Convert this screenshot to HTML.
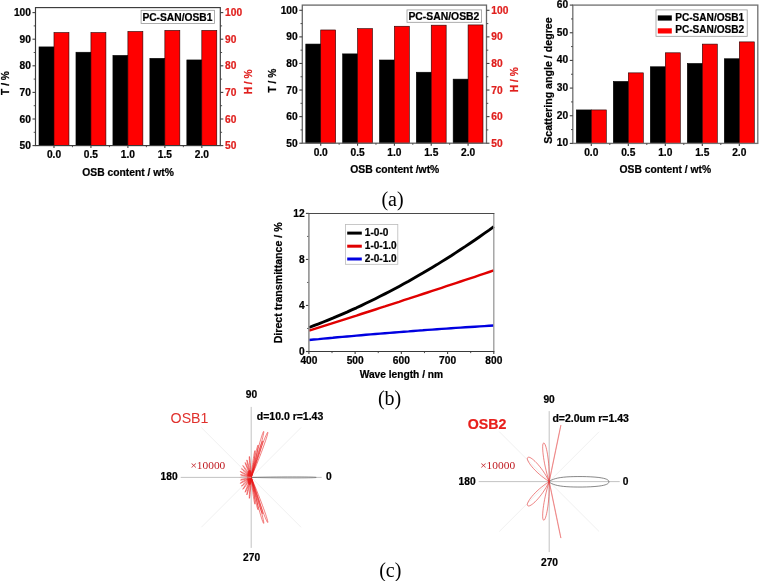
<!DOCTYPE html><html><head><meta charset="utf-8"><style>html,body{margin:0;padding:0;background:#fff;}svg{display:block;will-change:transform;}</style></head><body>
<svg width="759" height="581" viewBox="0 0 759 581">
<rect width="759" height="581" fill="#fff"/>
<rect x="39.01" y="46.91" width="14.97" height="98.69" fill="#000" stroke="#000" stroke-width="0.6"/>
<rect x="53.98" y="32.55" width="14.97" height="113.05" fill="#ff0000" stroke="#200" stroke-width="0.6"/>
<rect x="75.97" y="52.23" width="14.97" height="93.37" fill="#000" stroke="#000" stroke-width="0.6"/>
<rect x="90.94" y="32.55" width="14.97" height="113.05" fill="#ff0000" stroke="#200" stroke-width="0.6"/>
<rect x="112.93" y="55.43" width="14.97" height="90.17" fill="#000" stroke="#000" stroke-width="0.6"/>
<rect x="127.90" y="31.49" width="14.97" height="114.11" fill="#ff0000" stroke="#200" stroke-width="0.6"/>
<rect x="149.89" y="58.35" width="14.97" height="87.25" fill="#000" stroke="#000" stroke-width="0.6"/>
<rect x="164.86" y="30.42" width="14.97" height="115.18" fill="#ff0000" stroke="#200" stroke-width="0.6"/>
<rect x="186.85" y="59.95" width="14.97" height="85.65" fill="#000" stroke="#000" stroke-width="0.6"/>
<rect x="201.82" y="30.42" width="14.97" height="115.18" fill="#ff0000" stroke="#200" stroke-width="0.6"/>
<rect x="35.5" y="7.6" width="184.8" height="138.0" fill="none" stroke="#3a3a3a" stroke-width="1.15"/>
<line x1="32.5" y1="145.6" x2="35.5" y2="145.6" stroke="#404040" stroke-width="1.1"/>
<text x="30.9" y="149.2" font-size="10.2" font-weight="bold" font-family="'Liberation Sans', sans-serif" fill="#000" stroke="#000" stroke-width="0.22" text-anchor="end">50</text>
<line x1="220.3" y1="145.6" x2="223.3" y2="145.6" stroke="#404040" stroke-width="1.1"/>
<text x="225.10000000000002" y="149.2" font-size="10.2" font-weight="bold" font-family="'Liberation Sans', sans-serif" fill="#e0201e" stroke="#e0201e" stroke-width="0.22" text-anchor="start">50</text>
<line x1="32.5" y1="119.0" x2="35.5" y2="119.0" stroke="#404040" stroke-width="1.1"/>
<text x="30.9" y="122.6" font-size="10.2" font-weight="bold" font-family="'Liberation Sans', sans-serif" fill="#000" stroke="#000" stroke-width="0.22" text-anchor="end">60</text>
<line x1="220.3" y1="119.0" x2="223.3" y2="119.0" stroke="#404040" stroke-width="1.1"/>
<text x="225.10000000000002" y="122.6" font-size="10.2" font-weight="bold" font-family="'Liberation Sans', sans-serif" fill="#e0201e" stroke="#e0201e" stroke-width="0.22" text-anchor="start">60</text>
<line x1="32.5" y1="92.39999999999999" x2="35.5" y2="92.39999999999999" stroke="#404040" stroke-width="1.1"/>
<text x="30.9" y="95.99999999999999" font-size="10.2" font-weight="bold" font-family="'Liberation Sans', sans-serif" fill="#000" stroke="#000" stroke-width="0.22" text-anchor="end">70</text>
<line x1="220.3" y1="92.39999999999999" x2="223.3" y2="92.39999999999999" stroke="#404040" stroke-width="1.1"/>
<text x="225.10000000000002" y="95.99999999999999" font-size="10.2" font-weight="bold" font-family="'Liberation Sans', sans-serif" fill="#e0201e" stroke="#e0201e" stroke-width="0.22" text-anchor="start">70</text>
<line x1="32.5" y1="65.79999999999998" x2="35.5" y2="65.79999999999998" stroke="#404040" stroke-width="1.1"/>
<text x="30.9" y="69.39999999999998" font-size="10.2" font-weight="bold" font-family="'Liberation Sans', sans-serif" fill="#000" stroke="#000" stroke-width="0.22" text-anchor="end">80</text>
<line x1="220.3" y1="65.79999999999998" x2="223.3" y2="65.79999999999998" stroke="#404040" stroke-width="1.1"/>
<text x="225.10000000000002" y="69.39999999999998" font-size="10.2" font-weight="bold" font-family="'Liberation Sans', sans-serif" fill="#e0201e" stroke="#e0201e" stroke-width="0.22" text-anchor="start">80</text>
<line x1="32.5" y1="39.19999999999999" x2="35.5" y2="39.19999999999999" stroke="#404040" stroke-width="1.1"/>
<text x="30.9" y="42.79999999999999" font-size="10.2" font-weight="bold" font-family="'Liberation Sans', sans-serif" fill="#000" stroke="#000" stroke-width="0.22" text-anchor="end">90</text>
<line x1="220.3" y1="39.19999999999999" x2="223.3" y2="39.19999999999999" stroke="#404040" stroke-width="1.1"/>
<text x="225.10000000000002" y="42.79999999999999" font-size="10.2" font-weight="bold" font-family="'Liberation Sans', sans-serif" fill="#e0201e" stroke="#e0201e" stroke-width="0.22" text-anchor="start">90</text>
<line x1="32.5" y1="12.599999999999994" x2="35.5" y2="12.599999999999994" stroke="#404040" stroke-width="1.1"/>
<text x="30.9" y="16.199999999999996" font-size="10.2" font-weight="bold" font-family="'Liberation Sans', sans-serif" fill="#000" stroke="#000" stroke-width="0.22" text-anchor="end">100</text>
<line x1="220.3" y1="12.599999999999994" x2="223.3" y2="12.599999999999994" stroke="#404040" stroke-width="1.1"/>
<text x="225.10000000000002" y="16.199999999999996" font-size="10.2" font-weight="bold" font-family="'Liberation Sans', sans-serif" fill="#e0201e" stroke="#e0201e" stroke-width="0.22" text-anchor="start">100</text>
<line x1="33.7" y1="132.29999999999998" x2="35.5" y2="132.29999999999998" stroke="#404040" stroke-width="0.9"/>
<line x1="220.3" y1="132.29999999999998" x2="222.10000000000002" y2="132.29999999999998" stroke="#404040" stroke-width="0.9"/>
<line x1="33.7" y1="105.69999999999999" x2="35.5" y2="105.69999999999999" stroke="#404040" stroke-width="0.9"/>
<line x1="220.3" y1="105.69999999999999" x2="222.10000000000002" y2="105.69999999999999" stroke="#404040" stroke-width="0.9"/>
<line x1="33.7" y1="79.1" x2="35.5" y2="79.1" stroke="#404040" stroke-width="0.9"/>
<line x1="220.3" y1="79.1" x2="222.10000000000002" y2="79.1" stroke="#404040" stroke-width="0.9"/>
<line x1="33.7" y1="52.499999999999986" x2="35.5" y2="52.499999999999986" stroke="#404040" stroke-width="0.9"/>
<line x1="220.3" y1="52.499999999999986" x2="222.10000000000002" y2="52.499999999999986" stroke="#404040" stroke-width="0.9"/>
<line x1="33.7" y1="25.89999999999999" x2="35.5" y2="25.89999999999999" stroke="#404040" stroke-width="0.9"/>
<line x1="220.3" y1="25.89999999999999" x2="222.10000000000002" y2="25.89999999999999" stroke="#404040" stroke-width="0.9"/>
<line x1="53.980000000000004" y1="145.6" x2="53.980000000000004" y2="148.1" stroke="#404040" stroke-width="1.1"/>
<text x="53.980000000000004" y="158.1" font-size="10.2" font-weight="bold" font-family="'Liberation Sans', sans-serif" fill="#000" stroke="#000" stroke-width="0.22" text-anchor="middle">0.0</text>
<line x1="72.46000000000001" y1="145.6" x2="72.46000000000001" y2="147.2" stroke="#404040" stroke-width="0.9"/>
<line x1="90.94" y1="145.6" x2="90.94" y2="148.1" stroke="#404040" stroke-width="1.1"/>
<text x="90.94" y="158.1" font-size="10.2" font-weight="bold" font-family="'Liberation Sans', sans-serif" fill="#000" stroke="#000" stroke-width="0.22" text-anchor="middle">0.5</text>
<line x1="109.42" y1="145.6" x2="109.42" y2="147.2" stroke="#404040" stroke-width="0.9"/>
<line x1="127.9" y1="145.6" x2="127.9" y2="148.1" stroke="#404040" stroke-width="1.1"/>
<text x="127.9" y="158.1" font-size="10.2" font-weight="bold" font-family="'Liberation Sans', sans-serif" fill="#000" stroke="#000" stroke-width="0.22" text-anchor="middle">1.0</text>
<line x1="146.38" y1="145.6" x2="146.38" y2="147.2" stroke="#404040" stroke-width="0.9"/>
<line x1="164.86" y1="145.6" x2="164.86" y2="148.1" stroke="#404040" stroke-width="1.1"/>
<text x="164.86" y="158.1" font-size="10.2" font-weight="bold" font-family="'Liberation Sans', sans-serif" fill="#000" stroke="#000" stroke-width="0.22" text-anchor="middle">1.5</text>
<line x1="183.34" y1="145.6" x2="183.34" y2="147.2" stroke="#404040" stroke-width="0.9"/>
<line x1="201.82" y1="145.6" x2="201.82" y2="148.1" stroke="#404040" stroke-width="1.1"/>
<text x="201.82" y="158.1" font-size="10.2" font-weight="bold" font-family="'Liberation Sans', sans-serif" fill="#000" stroke="#000" stroke-width="0.22" text-anchor="middle">2.0</text>
<text x="8.6" y="83.0" font-size="10.2" font-weight="bold" font-family="'Liberation Sans', sans-serif" fill="#000" stroke="#000" stroke-width="0.22" text-anchor="middle" transform="rotate(-90 8.6 83.0)">T / %</text>
<text x="252.2" y="81.9" font-size="10.2" font-weight="bold" font-family="'Liberation Sans', sans-serif" fill="#e0201e" stroke="#e0201e" stroke-width="0.22" text-anchor="middle" transform="rotate(-90 252.2 81.9)">H / %</text>
<text x="128.1" y="175.6" font-size="10.2" font-weight="bold" font-family="'Liberation Sans', sans-serif" fill="#000" stroke="#000" stroke-width="0.22" text-anchor="middle" textLength="91.5" lengthAdjust="spacingAndGlyphs">OSB content / wt%</text>
<rect x="141.1" y="10.3" width="73.3" height="13.2" fill="#fff" stroke="#999" stroke-width="0.8"/>
<text x="142.4" y="20.9" font-size="10.2" font-weight="bold" font-family="'Liberation Sans', sans-serif" fill="#000" stroke="#000" stroke-width="0.22" text-anchor="start" textLength="70" lengthAdjust="spacingAndGlyphs">PC-SAN/OSB1</text>
<rect x="305.80" y="44.06" width="14.92" height="99.14" fill="#000" stroke="#000" stroke-width="0.6"/>
<rect x="320.72" y="29.97" width="14.92" height="113.23" fill="#ff0000" stroke="#200" stroke-width="0.6"/>
<rect x="342.64" y="53.89" width="14.92" height="89.31" fill="#000" stroke="#000" stroke-width="0.6"/>
<rect x="357.56" y="28.64" width="14.92" height="114.56" fill="#ff0000" stroke="#200" stroke-width="0.6"/>
<rect x="379.48" y="60.00" width="14.92" height="83.20" fill="#000" stroke="#000" stroke-width="0.6"/>
<rect x="394.40" y="26.25" width="14.92" height="116.95" fill="#ff0000" stroke="#200" stroke-width="0.6"/>
<rect x="416.32" y="72.23" width="14.92" height="70.97" fill="#000" stroke="#000" stroke-width="0.6"/>
<rect x="431.24" y="25.18" width="14.92" height="118.02" fill="#ff0000" stroke="#200" stroke-width="0.6"/>
<rect x="453.16" y="79.14" width="14.92" height="64.06" fill="#000" stroke="#000" stroke-width="0.6"/>
<rect x="468.08" y="24.92" width="14.92" height="118.28" fill="#ff0000" stroke="#200" stroke-width="0.6"/>
<rect x="302.3" y="5.1" width="184.2" height="138.1" fill="none" stroke="#686868" stroke-width="1.3"/>
<line x1="299.3" y1="143.2" x2="302.3" y2="143.2" stroke="#404040" stroke-width="1.1"/>
<text x="297.7" y="146.79999999999998" font-size="10.2" font-weight="bold" font-family="'Liberation Sans', sans-serif" fill="#000" stroke="#000" stroke-width="0.22" text-anchor="end">50</text>
<line x1="486.5" y1="143.2" x2="489.5" y2="143.2" stroke="#404040" stroke-width="1.1"/>
<text x="491.3" y="146.79999999999998" font-size="10.2" font-weight="bold" font-family="'Liberation Sans', sans-serif" fill="#e0201e" stroke="#e0201e" stroke-width="0.22" text-anchor="start">50</text>
<line x1="299.3" y1="116.61999999999999" x2="302.3" y2="116.61999999999999" stroke="#404040" stroke-width="1.1"/>
<text x="297.7" y="120.21999999999998" font-size="10.2" font-weight="bold" font-family="'Liberation Sans', sans-serif" fill="#000" stroke="#000" stroke-width="0.22" text-anchor="end">60</text>
<line x1="486.5" y1="116.61999999999999" x2="489.5" y2="116.61999999999999" stroke="#404040" stroke-width="1.1"/>
<text x="491.3" y="120.21999999999998" font-size="10.2" font-weight="bold" font-family="'Liberation Sans', sans-serif" fill="#e0201e" stroke="#e0201e" stroke-width="0.22" text-anchor="start">60</text>
<line x1="299.3" y1="90.03999999999999" x2="302.3" y2="90.03999999999999" stroke="#404040" stroke-width="1.1"/>
<text x="297.7" y="93.63999999999999" font-size="10.2" font-weight="bold" font-family="'Liberation Sans', sans-serif" fill="#000" stroke="#000" stroke-width="0.22" text-anchor="end">70</text>
<line x1="486.5" y1="90.03999999999999" x2="489.5" y2="90.03999999999999" stroke="#404040" stroke-width="1.1"/>
<text x="491.3" y="93.63999999999999" font-size="10.2" font-weight="bold" font-family="'Liberation Sans', sans-serif" fill="#e0201e" stroke="#e0201e" stroke-width="0.22" text-anchor="start">70</text>
<line x1="299.3" y1="63.46000000000001" x2="302.3" y2="63.46000000000001" stroke="#404040" stroke-width="1.1"/>
<text x="297.7" y="67.06" font-size="10.2" font-weight="bold" font-family="'Liberation Sans', sans-serif" fill="#000" stroke="#000" stroke-width="0.22" text-anchor="end">80</text>
<line x1="486.5" y1="63.46000000000001" x2="489.5" y2="63.46000000000001" stroke="#404040" stroke-width="1.1"/>
<text x="491.3" y="67.06" font-size="10.2" font-weight="bold" font-family="'Liberation Sans', sans-serif" fill="#e0201e" stroke="#e0201e" stroke-width="0.22" text-anchor="start">80</text>
<line x1="299.3" y1="36.88000000000001" x2="302.3" y2="36.88000000000001" stroke="#404040" stroke-width="1.1"/>
<text x="297.7" y="40.48000000000001" font-size="10.2" font-weight="bold" font-family="'Liberation Sans', sans-serif" fill="#000" stroke="#000" stroke-width="0.22" text-anchor="end">90</text>
<line x1="486.5" y1="36.88000000000001" x2="489.5" y2="36.88000000000001" stroke="#404040" stroke-width="1.1"/>
<text x="491.3" y="40.48000000000001" font-size="10.2" font-weight="bold" font-family="'Liberation Sans', sans-serif" fill="#e0201e" stroke="#e0201e" stroke-width="0.22" text-anchor="start">90</text>
<line x1="299.3" y1="10.300000000000011" x2="302.3" y2="10.300000000000011" stroke="#404040" stroke-width="1.1"/>
<text x="297.7" y="13.900000000000011" font-size="10.2" font-weight="bold" font-family="'Liberation Sans', sans-serif" fill="#000" stroke="#000" stroke-width="0.22" text-anchor="end">100</text>
<line x1="486.5" y1="10.300000000000011" x2="489.5" y2="10.300000000000011" stroke="#404040" stroke-width="1.1"/>
<text x="491.3" y="13.900000000000011" font-size="10.2" font-weight="bold" font-family="'Liberation Sans', sans-serif" fill="#e0201e" stroke="#e0201e" stroke-width="0.22" text-anchor="start">100</text>
<line x1="300.5" y1="129.91" x2="302.3" y2="129.91" stroke="#404040" stroke-width="0.9"/>
<line x1="486.5" y1="129.91" x2="488.3" y2="129.91" stroke="#404040" stroke-width="0.9"/>
<line x1="300.5" y1="103.33" x2="302.3" y2="103.33" stroke="#404040" stroke-width="0.9"/>
<line x1="486.5" y1="103.33" x2="488.3" y2="103.33" stroke="#404040" stroke-width="0.9"/>
<line x1="300.5" y1="76.75" x2="302.3" y2="76.75" stroke="#404040" stroke-width="0.9"/>
<line x1="486.5" y1="76.75" x2="488.3" y2="76.75" stroke="#404040" stroke-width="0.9"/>
<line x1="300.5" y1="50.17" x2="302.3" y2="50.17" stroke="#404040" stroke-width="0.9"/>
<line x1="486.5" y1="50.17" x2="488.3" y2="50.17" stroke="#404040" stroke-width="0.9"/>
<line x1="300.5" y1="23.590000000000018" x2="302.3" y2="23.590000000000018" stroke="#404040" stroke-width="0.9"/>
<line x1="486.5" y1="23.590000000000018" x2="488.3" y2="23.590000000000018" stroke="#404040" stroke-width="0.9"/>
<line x1="320.72" y1="143.2" x2="320.72" y2="145.7" stroke="#404040" stroke-width="1.1"/>
<text x="320.72" y="155.7" font-size="10.2" font-weight="bold" font-family="'Liberation Sans', sans-serif" fill="#000" stroke="#000" stroke-width="0.22" text-anchor="middle">0.0</text>
<line x1="339.14000000000004" y1="143.2" x2="339.14000000000004" y2="144.79999999999998" stroke="#404040" stroke-width="0.9"/>
<line x1="357.56" y1="143.2" x2="357.56" y2="145.7" stroke="#404040" stroke-width="1.1"/>
<text x="357.56" y="155.7" font-size="10.2" font-weight="bold" font-family="'Liberation Sans', sans-serif" fill="#000" stroke="#000" stroke-width="0.22" text-anchor="middle">0.5</text>
<line x1="375.98" y1="143.2" x2="375.98" y2="144.79999999999998" stroke="#404040" stroke-width="0.9"/>
<line x1="394.4" y1="143.2" x2="394.4" y2="145.7" stroke="#404040" stroke-width="1.1"/>
<text x="394.4" y="155.7" font-size="10.2" font-weight="bold" font-family="'Liberation Sans', sans-serif" fill="#000" stroke="#000" stroke-width="0.22" text-anchor="middle">1.0</text>
<line x1="412.82" y1="143.2" x2="412.82" y2="144.79999999999998" stroke="#404040" stroke-width="0.9"/>
<line x1="431.24" y1="143.2" x2="431.24" y2="145.7" stroke="#404040" stroke-width="1.1"/>
<text x="431.24" y="155.7" font-size="10.2" font-weight="bold" font-family="'Liberation Sans', sans-serif" fill="#000" stroke="#000" stroke-width="0.22" text-anchor="middle">1.5</text>
<line x1="449.66" y1="143.2" x2="449.66" y2="144.79999999999998" stroke="#404040" stroke-width="0.9"/>
<line x1="468.08" y1="143.2" x2="468.08" y2="145.7" stroke="#404040" stroke-width="1.1"/>
<text x="468.08" y="155.7" font-size="10.2" font-weight="bold" font-family="'Liberation Sans', sans-serif" fill="#000" stroke="#000" stroke-width="0.22" text-anchor="middle">2.0</text>
<text x="275.7" y="80.6" font-size="10.2" font-weight="bold" font-family="'Liberation Sans', sans-serif" fill="#000" stroke="#000" stroke-width="0.22" text-anchor="middle" transform="rotate(-90 275.7 80.6)">T / %</text>
<text x="517.9" y="79.7" font-size="10.2" font-weight="bold" font-family="'Liberation Sans', sans-serif" fill="#e0201e" stroke="#e0201e" stroke-width="0.22" text-anchor="middle" transform="rotate(-90 517.9 79.7)">H / %</text>
<text x="394.8" y="172.8" font-size="10.2" font-weight="bold" font-family="'Liberation Sans', sans-serif" fill="#000" stroke="#000" stroke-width="0.22" text-anchor="middle" textLength="89" lengthAdjust="spacingAndGlyphs">OSB content /wt%</text>
<rect x="407" y="9.9" width="74.6" height="12.4" fill="#fff" stroke="#999" stroke-width="0.8"/>
<text x="408.4" y="20.3" font-size="10.2" font-weight="bold" font-family="'Liberation Sans', sans-serif" fill="#000" stroke="#000" stroke-width="0.22" text-anchor="start" textLength="71" lengthAdjust="spacingAndGlyphs">PC-SAN/OSB2</text>
<rect x="576.31" y="109.93" width="14.99" height="33.47" fill="#000" stroke="#000" stroke-width="0.6"/>
<rect x="591.30" y="109.93" width="14.99" height="33.47" fill="#ff0000" stroke="#200" stroke-width="0.6"/>
<rect x="613.31" y="81.44" width="14.99" height="61.96" fill="#000" stroke="#000" stroke-width="0.6"/>
<rect x="628.30" y="72.87" width="14.99" height="70.53" fill="#ff0000" stroke="#200" stroke-width="0.6"/>
<rect x="650.31" y="66.78" width="14.99" height="76.62" fill="#000" stroke="#000" stroke-width="0.6"/>
<rect x="665.30" y="52.81" width="14.99" height="90.59" fill="#ff0000" stroke="#200" stroke-width="0.6"/>
<rect x="687.31" y="63.46" width="14.99" height="79.94" fill="#000" stroke="#000" stroke-width="0.6"/>
<rect x="702.30" y="44.10" width="14.99" height="99.30" fill="#ff0000" stroke="#200" stroke-width="0.6"/>
<rect x="724.31" y="58.76" width="14.99" height="84.64" fill="#000" stroke="#000" stroke-width="0.6"/>
<rect x="739.30" y="41.89" width="14.99" height="101.51" fill="#ff0000" stroke="#200" stroke-width="0.6"/>
<rect x="572.8" y="5.1" width="185.0" height="138.3" fill="none" stroke="#747474" stroke-width="1.35"/>
<line x1="569.8" y1="143.4" x2="572.8" y2="143.4" stroke="#404040" stroke-width="1.1"/>
<text x="568.1999999999999" y="146.4" font-size="10.2" font-weight="bold" font-family="'Liberation Sans', sans-serif" fill="#000" stroke="#000" stroke-width="0.22" text-anchor="end">10</text>
<line x1="569.8" y1="115.74000000000001" x2="572.8" y2="115.74000000000001" stroke="#404040" stroke-width="1.1"/>
<text x="568.1999999999999" y="118.74000000000001" font-size="10.2" font-weight="bold" font-family="'Liberation Sans', sans-serif" fill="#000" stroke="#000" stroke-width="0.22" text-anchor="end">20</text>
<line x1="569.8" y1="88.08000000000001" x2="572.8" y2="88.08000000000001" stroke="#404040" stroke-width="1.1"/>
<text x="568.1999999999999" y="91.08000000000001" font-size="10.2" font-weight="bold" font-family="'Liberation Sans', sans-serif" fill="#000" stroke="#000" stroke-width="0.22" text-anchor="end">30</text>
<line x1="569.8" y1="60.42" x2="572.8" y2="60.42" stroke="#404040" stroke-width="1.1"/>
<text x="568.1999999999999" y="63.42" font-size="10.2" font-weight="bold" font-family="'Liberation Sans', sans-serif" fill="#000" stroke="#000" stroke-width="0.22" text-anchor="end">40</text>
<line x1="569.8" y1="32.760000000000005" x2="572.8" y2="32.760000000000005" stroke="#404040" stroke-width="1.1"/>
<text x="568.1999999999999" y="35.760000000000005" font-size="10.2" font-weight="bold" font-family="'Liberation Sans', sans-serif" fill="#000" stroke="#000" stroke-width="0.22" text-anchor="end">50</text>
<line x1="569.8" y1="5.099999999999994" x2="572.8" y2="5.099999999999994" stroke="#404040" stroke-width="1.1"/>
<text x="568.1999999999999" y="8.099999999999994" font-size="10.2" font-weight="bold" font-family="'Liberation Sans', sans-serif" fill="#000" stroke="#000" stroke-width="0.22" text-anchor="end">60</text>
<line x1="571.0" y1="129.57" x2="572.8" y2="129.57" stroke="#404040" stroke-width="0.9"/>
<line x1="571.0" y1="101.91" x2="572.8" y2="101.91" stroke="#404040" stroke-width="0.9"/>
<line x1="571.0" y1="74.25" x2="572.8" y2="74.25" stroke="#404040" stroke-width="0.9"/>
<line x1="571.0" y1="46.59" x2="572.8" y2="46.59" stroke="#404040" stroke-width="0.9"/>
<line x1="571.0" y1="18.930000000000007" x2="572.8" y2="18.930000000000007" stroke="#404040" stroke-width="0.9"/>
<line x1="591.3" y1="143.4" x2="591.3" y2="145.9" stroke="#404040" stroke-width="1.1"/>
<text x="591.3" y="155.9" font-size="10.2" font-weight="bold" font-family="'Liberation Sans', sans-serif" fill="#000" stroke="#000" stroke-width="0.22" text-anchor="middle">0.0</text>
<line x1="609.8" y1="143.4" x2="609.8" y2="145.0" stroke="#404040" stroke-width="0.9"/>
<line x1="628.3" y1="143.4" x2="628.3" y2="145.9" stroke="#404040" stroke-width="1.1"/>
<text x="628.3" y="155.9" font-size="10.2" font-weight="bold" font-family="'Liberation Sans', sans-serif" fill="#000" stroke="#000" stroke-width="0.22" text-anchor="middle">0.5</text>
<line x1="646.8" y1="143.4" x2="646.8" y2="145.0" stroke="#404040" stroke-width="0.9"/>
<line x1="665.3" y1="143.4" x2="665.3" y2="145.9" stroke="#404040" stroke-width="1.1"/>
<text x="665.3" y="155.9" font-size="10.2" font-weight="bold" font-family="'Liberation Sans', sans-serif" fill="#000" stroke="#000" stroke-width="0.22" text-anchor="middle">1.0</text>
<line x1="683.8" y1="143.4" x2="683.8" y2="145.0" stroke="#404040" stroke-width="0.9"/>
<line x1="702.3" y1="143.4" x2="702.3" y2="145.9" stroke="#404040" stroke-width="1.1"/>
<text x="702.3" y="155.9" font-size="10.2" font-weight="bold" font-family="'Liberation Sans', sans-serif" fill="#000" stroke="#000" stroke-width="0.22" text-anchor="middle">1.5</text>
<line x1="720.8" y1="143.4" x2="720.8" y2="145.0" stroke="#404040" stroke-width="0.9"/>
<line x1="739.3" y1="143.4" x2="739.3" y2="145.9" stroke="#404040" stroke-width="1.1"/>
<text x="739.3" y="155.9" font-size="10.2" font-weight="bold" font-family="'Liberation Sans', sans-serif" fill="#000" stroke="#000" stroke-width="0.22" text-anchor="middle">2.0</text>
<text x="552.2" y="80.6" font-size="10.2" font-weight="bold" font-family="'Liberation Sans', sans-serif" fill="#000" stroke="#000" stroke-width="0.22" text-anchor="middle" transform="rotate(-90 552.2 80.6)" textLength="126.5" lengthAdjust="spacingAndGlyphs">Scattering angle / degree</text>
<text x="665.3" y="173" font-size="10.2" font-weight="bold" font-family="'Liberation Sans', sans-serif" fill="#000" stroke="#000" stroke-width="0.22" text-anchor="middle" textLength="91.5" lengthAdjust="spacingAndGlyphs">OSB content / wt%</text>
<rect x="656" y="9.9" width="91.2" height="26.4" fill="#fff" stroke="#999" stroke-width="0.8"/>
<rect x="657.8" y="15.4" width="14" height="5.2" fill="#000"/>
<rect x="657.8" y="28.3" width="14" height="5.2" fill="#ff0000"/>
<text x="675.2" y="20.6" font-size="10.2" font-weight="bold" font-family="'Liberation Sans', sans-serif" fill="#000" stroke="#000" stroke-width="0.22" text-anchor="start" textLength="69" lengthAdjust="spacingAndGlyphs">PC-SAN/OSB1</text>
<text x="675.2" y="33.4" font-size="10.2" font-weight="bold" font-family="'Liberation Sans', sans-serif" fill="#000" stroke="#000" stroke-width="0.22" text-anchor="start" textLength="69" lengthAdjust="spacingAndGlyphs">PC-SAN/OSB2</text>
<text x="392.5" y="205.7" font-size="20" font-weight="normal" font-family="'Liberation Serif', serif" fill="#000" text-anchor="middle">(a)</text>
<line x1="305.9" y1="351.5" x2="308.9" y2="351.5" stroke="#404040" stroke-width="1.1"/>
<text x="304.7" y="355.1" font-size="10.2" font-weight="bold" font-family="'Liberation Sans', sans-serif" fill="#000" stroke="#000" stroke-width="0.22" text-anchor="end">0</text>
<line x1="305.9" y1="305.4666666666667" x2="308.9" y2="305.4666666666667" stroke="#404040" stroke-width="1.1"/>
<text x="304.7" y="309.0666666666667" font-size="10.2" font-weight="bold" font-family="'Liberation Sans', sans-serif" fill="#000" stroke="#000" stroke-width="0.22" text-anchor="end">4</text>
<line x1="305.9" y1="259.43333333333334" x2="308.9" y2="259.43333333333334" stroke="#404040" stroke-width="1.1"/>
<text x="304.7" y="263.03333333333336" font-size="10.2" font-weight="bold" font-family="'Liberation Sans', sans-serif" fill="#000" stroke="#000" stroke-width="0.22" text-anchor="end">8</text>
<line x1="305.9" y1="213.4" x2="308.9" y2="213.4" stroke="#404040" stroke-width="1.1"/>
<text x="304.7" y="217.0" font-size="10.2" font-weight="bold" font-family="'Liberation Sans', sans-serif" fill="#000" stroke="#000" stroke-width="0.22" text-anchor="end">12</text>
<line x1="307.09999999999997" y1="328.48333333333335" x2="308.9" y2="328.48333333333335" stroke="#404040" stroke-width="0.9"/>
<line x1="307.09999999999997" y1="282.45" x2="308.9" y2="282.45" stroke="#404040" stroke-width="0.9"/>
<line x1="307.09999999999997" y1="236.41666666666669" x2="308.9" y2="236.41666666666669" stroke="#404040" stroke-width="0.9"/>
<line x1="308.9" y1="351.5" x2="308.9" y2="354.0" stroke="#404040" stroke-width="1.1"/>
<text x="308.9" y="364.1" font-size="10.2" font-weight="bold" font-family="'Liberation Sans', sans-serif" fill="#000" stroke="#000" stroke-width="0.22" text-anchor="middle">400</text>
<line x1="355.125" y1="351.5" x2="355.125" y2="354.0" stroke="#404040" stroke-width="1.1"/>
<text x="355.125" y="364.1" font-size="10.2" font-weight="bold" font-family="'Liberation Sans', sans-serif" fill="#000" stroke="#000" stroke-width="0.22" text-anchor="middle">500</text>
<line x1="401.35" y1="351.5" x2="401.35" y2="354.0" stroke="#404040" stroke-width="1.1"/>
<text x="401.35" y="364.1" font-size="10.2" font-weight="bold" font-family="'Liberation Sans', sans-serif" fill="#000" stroke="#000" stroke-width="0.22" text-anchor="middle">600</text>
<line x1="447.575" y1="351.5" x2="447.575" y2="354.0" stroke="#404040" stroke-width="1.1"/>
<text x="447.575" y="364.1" font-size="10.2" font-weight="bold" font-family="'Liberation Sans', sans-serif" fill="#000" stroke="#000" stroke-width="0.22" text-anchor="middle">700</text>
<line x1="493.8" y1="351.5" x2="493.8" y2="354.0" stroke="#404040" stroke-width="1.1"/>
<text x="493.8" y="364.1" font-size="10.2" font-weight="bold" font-family="'Liberation Sans', sans-serif" fill="#000" stroke="#000" stroke-width="0.22" text-anchor="middle">800</text>
<line x1="332.0125" y1="351.5" x2="332.0125" y2="353.1" stroke="#404040" stroke-width="0.9"/>
<line x1="378.23749999999995" y1="351.5" x2="378.23749999999995" y2="353.1" stroke="#404040" stroke-width="0.9"/>
<line x1="424.4625" y1="351.5" x2="424.4625" y2="353.1" stroke="#404040" stroke-width="0.9"/>
<line x1="470.6875" y1="351.5" x2="470.6875" y2="353.1" stroke="#404040" stroke-width="0.9"/>
<path d="M309.1,340.0 L313.8,339.5 L318.6,339.1 L323.3,338.6 L328.0,338.2 L332.8,337.8 L337.5,337.3 L342.3,336.9 L347.0,336.5 L351.7,336.1 L356.5,335.6 L361.2,335.2 L365.9,334.8 L370.7,334.4 L375.4,334.0 L380.1,333.6 L384.9,333.2 L389.6,332.9 L394.3,332.5 L399.1,332.1 L403.8,331.7 L408.6,331.4 L413.3,331.0 L418.0,330.6 L422.8,330.3 L427.5,329.9 L432.2,329.6 L437.0,329.2 L441.7,328.9 L446.4,328.6 L451.2,328.2 L455.9,327.9 L460.6,327.6 L465.4,327.3 L470.1,327.0 L474.9,326.7 L479.6,326.4 L484.3,326.1 L489.1,325.8 L493.8,325.5" fill="none" stroke="#0000e0" stroke-width="2.4" stroke-linejoin="round"/>
<path d="M309.1,330.7 L313.8,329.2 L318.6,327.7 L323.3,326.2 L328.0,324.7 L332.8,323.2 L337.5,321.7 L342.3,320.1 L347.0,318.6 L351.7,317.1 L356.5,315.6 L361.2,314.0 L365.9,312.5 L370.7,311.0 L375.4,309.5 L380.1,307.9 L384.9,306.4 L389.6,304.8 L394.3,303.3 L399.1,301.8 L403.8,300.2 L408.6,298.7 L413.3,297.1 L418.0,295.6 L422.8,294.0 L427.5,292.5 L432.2,290.9 L437.0,289.3 L441.7,287.8 L446.4,286.2 L451.2,284.6 L455.9,283.1 L460.6,281.5 L465.4,279.9 L470.1,278.4 L474.9,276.8 L479.6,275.2 L484.3,273.6 L489.1,272.0 L493.8,270.4" fill="none" stroke="#e00000" stroke-width="2.4" stroke-linejoin="round"/>
<path d="M309.1,327.5 L313.8,325.7 L318.6,323.9 L323.3,322.0 L328.0,320.1 L332.8,318.2 L337.5,316.2 L342.3,314.1 L347.0,312.1 L351.7,309.9 L356.5,307.8 L361.2,305.6 L365.9,303.3 L370.7,301.0 L375.4,298.7 L380.1,296.3 L384.9,293.9 L389.6,291.5 L394.3,289.0 L399.1,286.4 L403.8,283.8 L408.6,281.2 L413.3,278.5 L418.0,275.8 L422.8,273.1 L427.5,270.3 L432.2,267.4 L437.0,264.6 L441.7,261.6 L446.4,258.7 L451.2,255.7 L455.9,252.6 L460.6,249.5 L465.4,246.4 L470.1,243.2 L474.9,240.0 L479.6,236.7 L484.3,233.4 L489.1,230.1 L493.8,226.7" fill="none" stroke="#000" stroke-width="2.9" stroke-linejoin="round"/>
<line x1="308.9" y1="213.4" x2="308.9" y2="351.5" stroke="#8a8a8a" stroke-width="1.5"/>
<line x1="493.8" y1="213.4" x2="493.8" y2="351.5" stroke="#999" stroke-width="1.3"/>
<line x1="308.2" y1="213.4" x2="494.40000000000003" y2="213.4" stroke="#4a4a4a" stroke-width="1.05"/>
<line x1="308.2" y1="351.5" x2="494.40000000000003" y2="351.5" stroke="#3a3a3a" stroke-width="1.0"/>
<rect x="345.4" y="224.5" width="52.4" height="39.8" fill="#fff" stroke="#bbb" stroke-width="0.8"/>
<line x1="347.2" y1="233.1" x2="361.8" y2="233.1" stroke="#000" stroke-width="3"/>
<line x1="347.2" y1="246.2" x2="361.8" y2="246.2" stroke="#e00000" stroke-width="3"/>
<line x1="347.2" y1="259.0" x2="361.8" y2="259.0" stroke="#0000e0" stroke-width="3"/>
<text x="364.8" y="235.6" font-size="10" font-weight="bold" font-family="'Liberation Sans', sans-serif" fill="#000" stroke="#000" stroke-width="0.22" text-anchor="start" textLength="23.6" lengthAdjust="spacingAndGlyphs">1-0-0</text>
<text x="364.8" y="248.6" font-size="10" font-weight="bold" font-family="'Liberation Sans', sans-serif" fill="#000" stroke="#000" stroke-width="0.22" text-anchor="start" textLength="31.8" lengthAdjust="spacingAndGlyphs">1-0-1.0</text>
<text x="364.8" y="261.6" font-size="10" font-weight="bold" font-family="'Liberation Sans', sans-serif" fill="#000" stroke="#000" stroke-width="0.22" text-anchor="start" textLength="31.8" lengthAdjust="spacingAndGlyphs">2-0-1.0</text>
<text x="282.2" y="282.8" font-size="10.2" font-weight="bold" font-family="'Liberation Sans', sans-serif" fill="#000" stroke="#000" stroke-width="0.22" text-anchor="middle" transform="rotate(-90 282.2 282.8)" textLength="121" lengthAdjust="spacingAndGlyphs">Direct transmittance / %</text>
<text x="401.4" y="377.8" font-size="10.2" font-weight="bold" font-family="'Liberation Sans', sans-serif" fill="#000" stroke="#000" stroke-width="0.22" text-anchor="middle" textLength="83.5" lengthAdjust="spacingAndGlyphs">Wave length / nm</text>
<text x="389.6" y="405.0" font-size="20" font-weight="normal" font-family="'Liberation Serif', serif" fill="#000" text-anchor="middle">(b)</text>
<line x1="201.34945" y1="427.54945" x2="301.05055" y2="527.25055" stroke="#ececec" stroke-width="0.8"/>
<line x1="201.34945" y1="527.25055" x2="301.05055" y2="427.54945" stroke="#ececec" stroke-width="0.8"/>
<line x1="180.7" y1="477.4" x2="321.7" y2="477.4" stroke="#b4b4b4" stroke-width="0.8"/>
<line x1="251.2" y1="406.9" x2="251.2" y2="547.9" stroke="#b4b4b4" stroke-width="0.8"/>
<path d="M251.20,477.40 C286.95,478.50 317.50,478.06 316.20,477.40 C317.50,476.74 286.95,476.30 251.20,477.40Z" fill="none" stroke="#606060" stroke-width="0.5"/>
<ellipse cx="249.6" cy="477.4" rx="2.4" ry="7.5" fill="#f02020" opacity="0.9"/>
<path d="M251.20,477.40 C261.72,453.14 268.95,431.76 267.77,432.35 C267.26,431.14 258.91,452.11 251.20,477.40Z" fill="none" stroke="#e81818" stroke-width="0.55"/>
<path d="M251.20,477.40 C258.91,502.69 267.26,523.66 267.77,522.45 C268.95,523.04 261.72,501.66 251.20,477.40Z" fill="none" stroke="#e81818" stroke-width="0.55"/>
<path d="M251.20,477.40 C259.42,452.50 264.74,430.77 263.68,431.47 C263.12,430.33 256.71,451.77 251.20,477.40Z" fill="none" stroke="#e81818" stroke-width="0.55"/>
<path d="M251.20,477.40 C256.71,503.03 263.12,524.47 263.68,523.33 C264.74,524.03 259.42,502.30 251.20,477.40Z" fill="none" stroke="#e81818" stroke-width="0.55"/>
<path d="M251.20,477.40 C258.63,457.83 263.54,440.65 262.63,441.16 C262.17,440.22 256.34,457.11 251.20,477.40Z" fill="none" stroke="#e81818" stroke-width="0.55"/>
<path d="M251.20,477.40 C256.34,497.69 262.17,514.58 262.63,513.64 C263.54,514.15 258.63,496.97 251.20,477.40Z" fill="none" stroke="#e81818" stroke-width="0.55"/>
<path d="M251.20,477.40 C255.95,459.85 258.79,444.60 258.06,445.12 C257.61,444.35 254.00,459.44 251.20,477.40Z" fill="none" stroke="#e81818" stroke-width="0.55"/>
<path d="M251.20,477.40 C254.00,495.36 257.61,510.45 258.06,509.68 C258.79,510.20 255.95,494.95 251.20,477.40Z" fill="none" stroke="#e81818" stroke-width="0.55"/>
<path d="M251.20,477.40 C254.06,462.81 255.51,450.19 254.96,450.66 C254.56,450.06 252.47,462.58 251.20,477.40Z" fill="none" stroke="#e81818" stroke-width="0.55"/>
<path d="M251.20,477.40 C252.47,492.22 254.56,504.74 254.96,504.14 C255.51,504.61 254.06,491.99 251.20,477.40Z" fill="none" stroke="#e81818" stroke-width="0.55"/>
<path d="M251.20,477.40 C250.79,465.84 249.69,456.03 249.37,456.48 C248.97,456.09 249.60,465.95 251.20,477.40Z" fill="none" stroke="#e81818" stroke-width="0.55"/>
<path d="M251.20,477.40 C249.60,488.85 248.97,498.71 249.37,498.32 C249.69,498.77 250.79,488.96 251.20,477.40Z" fill="none" stroke="#e81818" stroke-width="0.55"/>
<path d="M251.20,477.40 C249.39,467.65 247.11,459.50 246.85,459.93 C246.41,459.67 248.22,467.94 251.20,477.40Z" fill="none" stroke="#e81818" stroke-width="0.55"/>
<path d="M251.20,477.40 C248.22,486.86 246.41,495.13 246.85,494.87 C247.11,495.30 249.39,487.15 251.20,477.40Z" fill="none" stroke="#e81818" stroke-width="0.55"/>
<path d="M251.20,477.40 C248.46,469.02 245.42,462.13 245.21,462.57 C244.75,462.40 247.35,469.47 251.20,477.40Z" fill="none" stroke="#e81818" stroke-width="0.55"/>
<path d="M251.20,477.40 C247.35,485.33 244.75,492.40 245.21,492.23 C245.42,492.67 248.46,485.78 251.20,477.40Z" fill="none" stroke="#e81818" stroke-width="0.55"/>
<path d="M251.20,477.40 C247.12,470.52 243.01,465.08 242.88,465.52 C242.42,465.49 246.13,471.21 251.20,477.40Z" fill="none" stroke="#e81818" stroke-width="0.55"/>
<path d="M251.20,477.40 C246.13,483.59 242.42,489.31 242.88,489.28 C243.01,489.72 247.12,484.28 251.20,477.40Z" fill="none" stroke="#e81818" stroke-width="0.55"/>
<path d="M251.20,477.40 C246.29,472.17 241.59,468.26 241.54,468.70 C241.11,468.79 245.49,473.06 251.20,477.40Z" fill="none" stroke="#e81818" stroke-width="0.55"/>
<path d="M251.20,477.40 C245.49,481.74 241.11,486.01 241.54,486.10 C241.59,486.54 246.29,482.63 251.20,477.40Z" fill="none" stroke="#e81818" stroke-width="0.55"/>
<path d="M251.20,477.40 C245.46,473.67 240.20,471.14 240.25,471.58 C239.86,471.78 244.90,474.73 251.20,477.40Z" fill="none" stroke="#e81818" stroke-width="0.55"/>
<path d="M251.20,477.40 C244.90,480.07 239.86,483.02 240.25,483.22 C240.20,483.66 245.46,481.13 251.20,477.40Z" fill="none" stroke="#e81818" stroke-width="0.55"/>
<path d="M251.20,477.40 C245.47,475.35 240.40,474.34 240.53,474.74 C240.23,475.03 245.18,476.52 251.20,477.40Z" fill="none" stroke="#e81818" stroke-width="0.55"/>
<path d="M251.20,477.40 C245.18,478.28 240.23,479.77 240.53,480.06 C240.40,480.46 245.47,479.45 251.20,477.40Z" fill="none" stroke="#e81818" stroke-width="0.55"/>
<path d="M251.20,477.40 C245.15,476.20 239.98,476.68 240.20,477.40 C239.98,478.12 245.15,478.60 251.20,477.40Z" fill="none" stroke="#d8a0a0" stroke-width="0.6"/>
<text x="251.4" y="398.4" font-size="10.2" font-weight="bold" font-family="'Liberation Sans', sans-serif" fill="#000" stroke="#000" stroke-width="0.22" text-anchor="middle">90</text>
<text x="177.6" y="480.2" font-size="10.2" font-weight="bold" font-family="'Liberation Sans', sans-serif" fill="#000" stroke="#000" stroke-width="0.22" text-anchor="end">180</text>
<text x="326.0" y="480.0" font-size="10.2" font-weight="bold" font-family="'Liberation Sans', sans-serif" fill="#000" stroke="#000" stroke-width="0.22" text-anchor="start">0</text>
<text x="251.6" y="560.8" font-size="10.2" font-weight="bold" font-family="'Liberation Sans', sans-serif" fill="#000" stroke="#000" stroke-width="0.22" text-anchor="middle">270</text>
<text x="256.8" y="420.0" font-size="10.2" font-weight="bold" font-family="'Liberation Sans', sans-serif" fill="#000" stroke="#000" stroke-width="0.22" text-anchor="start" textLength="66.5" lengthAdjust="spacingAndGlyphs">d=10.0 r=1.43</text>
<text x="170.6" y="422.7" font-size="14.2" font-weight="normal" font-family="'Liberation Sans', sans-serif" fill="#e0302c" text-anchor="start">OSB1</text>
<text x="190.4" y="468.8" font-size="11.4" font-weight="normal" font-family="'Liberation Serif', serif" fill="#c01c22" text-anchor="start">×10000</text>
<line x1="499.34945000000005" y1="431.74945" x2="599.05055" y2="531.45055" stroke="#ececec" stroke-width="0.8"/>
<line x1="499.34945000000005" y1="531.45055" x2="599.05055" y2="431.74945" stroke="#ececec" stroke-width="0.8"/>
<line x1="478.70000000000005" y1="481.6" x2="619.7" y2="481.6" stroke="#b4b4b4" stroke-width="0.8"/>
<line x1="549.2" y1="411.1" x2="549.2" y2="552.1" stroke="#b4b4b4" stroke-width="0.8"/>
<path transform="translate(548.9000000000001 481.8)" d="M0,0 C3,-2.5 8,-4.2 18,-4.9 C26,-5.4 40,-5.5 50,-4.3 C57,-3.4 60,-2 60,0 C60,2 57,3.4 50,4.3 C40,5.5 26,5.4 18,4.9 C8,4.2 3,2.5 0,0 Z" fill="none" stroke="#555" stroke-width="0.7"/>
<path d="M549.20,481.60 C555.87,450.63 561.26,424.10 560.88,425.20 C560.97,424.04 555.38,450.53 549.20,481.60Z" fill="none" stroke="#e44848" stroke-width="0.45"/>
<path d="M549.20,481.60 C555.38,512.67 560.97,539.16 560.88,538.00 C561.26,539.10 555.87,512.57 549.20,481.60Z" fill="none" stroke="#e44848" stroke-width="0.45"/>
<path d="M549.20,481.60 C549.75,459.91 545.75,442.01 543.72,443.09 C541.47,442.62 542.62,460.93 549.20,481.60Z" fill="none" stroke="#e03030" stroke-width="0.6"/>
<path d="M549.20,481.60 C542.62,502.27 541.47,520.58 543.72,520.11 C545.75,521.19 549.75,503.29 549.20,481.60Z" fill="none" stroke="#e03030" stroke-width="0.6"/>
<path d="M549.20,481.60 C541.15,465.05 529.59,455.08 527.78,457.56 C525.11,459.07 533.69,471.70 549.20,481.60Z" fill="none" stroke="#e03030" stroke-width="0.6"/>
<path d="M549.20,481.60 C533.69,491.50 525.11,504.13 527.78,505.64 C529.59,508.12 541.15,498.15 549.20,481.60Z" fill="none" stroke="#e03030" stroke-width="0.6"/>
<text x="549.1" y="402.9" font-size="10.2" font-weight="bold" font-family="'Liberation Sans', sans-serif" fill="#000" stroke="#000" stroke-width="0.22" text-anchor="middle">90</text>
<text x="475.6" y="484.9" font-size="10.2" font-weight="bold" font-family="'Liberation Sans', sans-serif" fill="#000" stroke="#000" stroke-width="0.22" text-anchor="end">180</text>
<text x="622.8" y="485.0" font-size="10.2" font-weight="bold" font-family="'Liberation Sans', sans-serif" fill="#000" stroke="#000" stroke-width="0.22" text-anchor="start">0</text>
<text x="549.5" y="565.7" font-size="10.2" font-weight="bold" font-family="'Liberation Sans', sans-serif" fill="#000" stroke="#000" stroke-width="0.22" text-anchor="middle">270</text>
<text x="552.4" y="421.6" font-size="10.2" font-weight="bold" font-family="'Liberation Sans', sans-serif" fill="#000" stroke="#000" stroke-width="0.22" text-anchor="start" textLength="76.5" lengthAdjust="spacingAndGlyphs">d=2.0um r=1.43</text>
<text x="467.8" y="428.7" font-size="14.2" font-weight="bold" font-family="'Liberation Sans', sans-serif" fill="#e8201c" stroke="#e8201c" stroke-width="0.22" text-anchor="start">OSB2</text>
<text x="480.2" y="469.0" font-size="11.4" font-weight="normal" font-family="'Liberation Serif', serif" fill="#c01c22" text-anchor="start">×10000</text>
<text x="390.3" y="576.5" font-size="20" font-weight="normal" font-family="'Liberation Serif', serif" fill="#000" text-anchor="middle">(c)</text>
</svg></body></html>
